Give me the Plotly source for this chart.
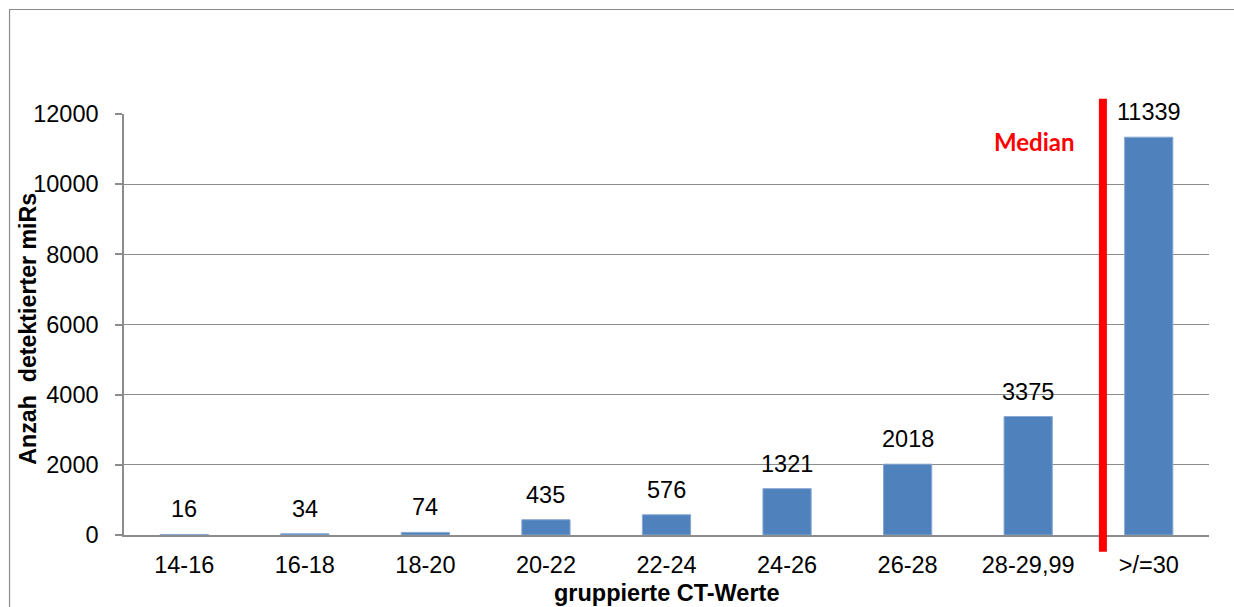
import plotly.graph_objects as go

# Grouped CT values and number of detected miRs per group
ct_groups = ["14-16", "16-18", "18-20", "20-22", "22-24", "24-26", "26-28", "28-29,99", ">/=30"]
mir_counts = [16, 34, 74, 435, 576, 1321, 2018, 3375, 11339]

y_ticks = [0, 2000, 4000, 6000, 8000, 10000, 12000]
median_pos = 7.62  # category-axis position of the median marker

bar_color = "#4F81BD"
grid_color = "#8C8C8C"
font_family = "Liberation Sans, Arial, sans-serif"

fig = go.Figure()

fig.add_trace(go.Bar(
    x=ct_groups,
    y=mir_counts,
    marker=dict(color=bar_color, line=dict(color="#87A6D2", width=1)),
    hoverinfo="skip",
))

# value labels above each bar
for cat, val in zip(ct_groups, mir_counts):
    fig.add_annotation(
        x=cat, y=val, xref="x", yref="y",
        text=str(val), showarrow=False,
        yanchor="middle", yshift=25,
        font=dict(family=font_family, size=23.5, color="#000000"),
    )

# median marker
fig.add_shape(
    type="line", xref="x", yref="paper",
    x0=median_pos, x1=median_pos, y0=-0.04, y1=1.036,
    line=dict(color="#FF0000", width=8), layer="above",
)
fig.add_annotation(
    x=median_pos, xref="x", y=0.9335, yref="paper",
    text="<b>Median</b>", showarrow=False,
    xanchor="right", yanchor="middle", xshift=-26,
    font=dict(family="Lato, Carlito, sans-serif", size=24, color="#FF0000"),
)

# axis titles
fig.add_annotation(
    x=0.5, xref="paper", y=-0.1378, yref="paper",
    text="<b>gruppierte CT-Werte</b>", showarrow=False,
    xanchor="center", yanchor="middle",
    font=dict(family=font_family, size=23.5, color="#000000"),
)
fig.add_annotation(
    x=-0.0885, xref="paper", y=0.49, yref="paper",
    text="<b>Anzah\u00a0 detektierter miRs</b>", showarrow=False,
    textangle=-90, xanchor="center", yanchor="middle",
    font=dict(family=font_family, size=23.2, color="#000000"),
)

# outer chart border (left and top edges visible)
fig.add_shape(
    type="rect", xref="paper", yref="paper",
    x0=-0.1055, x1=1.1, y0=-0.4, y1=1.2482,
    line=dict(color="#8A8A8A", width=1.2), layer="below",
)

fig.update_layout(
    width=1234, height=607,
    margin=dict(l=124, r=25, t=114, b=72),
    paper_bgcolor="#FFFFFF", plot_bgcolor="#FFFFFF",
    bargap=0.6,
    showlegend=False,
    font=dict(family=font_family, size=23.5, color="#000000"),
    xaxis=dict(
        type="category",
        showline=True, linecolor=grid_color, linewidth=1.5,
        showgrid=False, ticks="", ticklabelstandoff=8,
        tickfont=dict(family=font_family, size=23.5, color="#000000"),
    ),
    yaxis=dict(
        range=[0, 12000], tickvals=y_ticks, tickformat="d",
        showline=True, linecolor=grid_color, linewidth=1.5,
        showgrid=True, gridcolor=grid_color, gridwidth=1.2,
        zeroline=False,
        ticks="outside", ticklen=7, tickcolor=grid_color, tickwidth=1.5,
        ticklabelstandoff=12,
        tickfont=dict(family=font_family, size=23.5, color="#000000"),
    ),
)

fig.write_html("out.html")
